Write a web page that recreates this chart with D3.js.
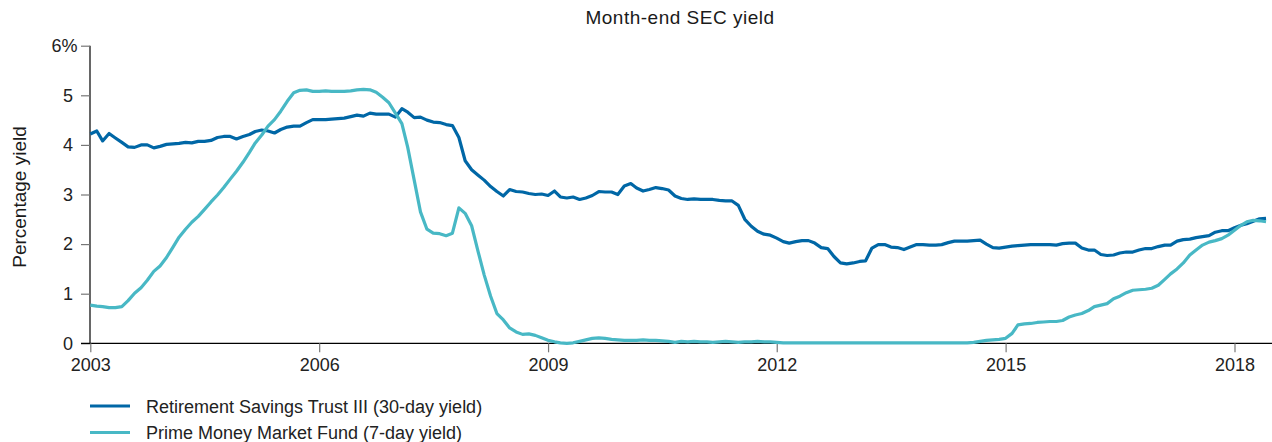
<!DOCTYPE html>
<html>
<head>
<meta charset="utf-8">
<script src="https://cdn.jsdelivr.net/npm/d3@7"></script>
<style>
  body { margin: 0; background: #fff; }
  svg { display: block; font-family: "Liberation Sans", Arial, sans-serif; }
</style>
</head>
<body>
<svg id="chart" width="1272" height="442"></svg>
<script>
// monthly series, first point is Jan 2003
const startYear = 2003;

const trustYield = [
  4.22, 4.28, 4.08, 4.23, 4.14, 4.05, 3.96, 3.95, 4.00, 4.00,
  3.94, 3.97, 4.01, 4.02, 4.03, 4.05, 4.04, 4.07, 4.07, 4.09,
  4.15, 4.17, 4.17, 4.12, 4.17, 4.21, 4.27, 4.30, 4.28, 4.24,
  4.31, 4.36, 4.38, 4.38, 4.45, 4.51, 4.51, 4.51, 4.52, 4.53,
  4.54, 4.57, 4.60, 4.58, 4.64, 4.62, 4.62, 4.62, 4.56, 4.73,
  4.66, 4.55, 4.56, 4.50, 4.46, 4.45, 4.41, 4.39, 4.15, 3.68,
  3.50, 3.39, 3.29, 3.16, 3.06, 2.97, 3.10, 3.06, 3.05, 3.02,
  3.00, 3.01, 2.98, 3.07, 2.95, 2.93, 2.95, 2.90, 2.93, 2.98,
  3.06, 3.05, 3.05, 3.00, 3.17, 3.22, 3.13, 3.07, 3.10, 3.14,
  3.12, 3.09, 2.97, 2.92, 2.90, 2.91, 2.90, 2.90, 2.90, 2.88, 2.87,
  2.87, 2.78, 2.50, 2.36, 2.26, 2.20, 2.18, 2.12, 2.05, 2.02,
  2.05, 2.07, 2.07, 2.02, 1.93, 1.91, 1.75, 1.62, 1.60, 1.62,
  1.65, 1.66, 1.92, 1.99, 1.99, 1.94, 1.93, 1.89, 1.94, 1.99,
  1.99, 1.98, 1.98, 1.99, 2.03, 2.06, 2.06, 2.06, 2.07, 2.08,
  2.00, 1.93, 1.92, 1.94, 1.96, 1.97, 1.98, 1.99, 1.99, 1.99,
  1.99, 1.98, 2.01, 2.02, 2.02, 1.92, 1.88, 1.88, 1.79, 1.77,
  1.78, 1.82, 1.84, 1.84, 1.88, 1.91, 1.91, 1.95, 1.98, 1.98,
  2.06, 2.09, 2.10, 2.13, 2.15, 2.17, 2.24, 2.27, 2.27, 2.33,
  2.38, 2.41, 2.46, 2.51, 2.52
];

const primeYield = [
  0.77, 0.75, 0.74, 0.72, 0.72, 0.74, 0.86, 1.01, 1.12, 1.27,
  1.45, 1.56, 1.73, 1.94, 2.14, 2.30, 2.44, 2.56, 2.70, 2.85,
  2.99, 3.14, 3.31, 3.47, 3.65, 3.85, 4.04, 4.20, 4.38, 4.51,
  4.68, 4.88, 5.05, 5.10, 5.11, 5.08, 5.08, 5.09, 5.08, 5.08,
  5.08, 5.09, 5.11, 5.12, 5.11, 5.06, 4.96, 4.85, 4.64, 4.43,
  3.95, 3.29, 2.65, 2.30, 2.22, 2.21, 2.17, 2.22, 2.73, 2.62,
  2.37, 1.85, 1.38, 0.95, 0.60, 0.47, 0.31, 0.23, 0.18, 0.19,
  0.16, 0.11, 0.06, 0.03, 0.01, 0.00, 0.01, 0.04, 0.07, 0.10,
  0.11, 0.10, 0.08, 0.07, 0.06, 0.06, 0.06, 0.07, 0.06, 0.06,
  0.05, 0.04, 0.02, 0.04, 0.03, 0.04, 0.03, 0.03, 0.02, 0.03, 0.04,
  0.03, 0.02, 0.03, 0.03, 0.04, 0.03, 0.03, 0.02, 0.01, 0.01,
  0.01, 0.01, 0.01, 0.01, 0.01, 0.01, 0.01, 0.01, 0.01, 0.01,
  0.01, 0.01, 0.01, 0.01, 0.01, 0.01, 0.01, 0.01, 0.01, 0.01,
  0.01, 0.01, 0.01, 0.01, 0.01, 0.01, 0.01, 0.01, 0.02, 0.04,
  0.06, 0.07, 0.08, 0.10, 0.20, 0.37, 0.39, 0.40, 0.42, 0.43,
  0.44, 0.44, 0.46, 0.53, 0.57, 0.60, 0.66, 0.74, 0.77, 0.80,
  0.90, 0.95, 1.02, 1.07, 1.08, 1.09, 1.11, 1.17, 1.29, 1.40,
  1.50, 1.62, 1.78, 1.88, 1.98, 2.04, 2.07, 2.11, 2.18, 2.28,
  2.38, 2.45, 2.48, 2.47, 2.45
];

const seriesNames = [
  "Retirement Savings Trust III (30-day yield)",
  "Prime Money Market Fund (7-day yield)"
];
const colors = ["#0067a6", "#48b8c5"];
const yTicks = [0, 1, 2, 3, 4, 5, 6];
const xTickYears = [2003, 2006, 2009, 2012, 2015, 2018];

const svg = d3.select("#chart");
const width = 1272, height = 442;
const tickFont = 18;

const months = trustYield.map((_, i) => new Date(Date.UTC(startYear, i, 1)));

const x = d3.scaleUtc()
  .domain([new Date(Date.UTC(2003, 0, 1)), new Date(Date.UTC(2018, 0, 1))])
  .range([90.3, 1234.5]);

const y = d3.scaleLinear()
  .domain([0, 6])
  .range([343.3, 45.7]);

// title
svg.append("text")
  .attr("x", 680).attr("y", 24)
  .attr("text-anchor", "middle")
  .attr("font-size", 19)
  .attr("fill", "#1a1a1a")
  .attr("letter-spacing", "0.5px")
  .text("Month-end SEC yield");

// y axis label
svg.append("text")
  .attr("transform", "translate(26,197) rotate(-90)")
  .attr("text-anchor", "middle")
  .attr("font-size", 19)
  .attr("fill", "#1a1a1a")
  .text("Percentage yield");

// y axis
const yAxis = svg.append("g")
  .attr("transform", "translate(90,0)")
  .call(d3.axisLeft(y).tickValues(yTicks).tickSize(9).tickPadding(8)
    .tickFormat(d => d === 6 ? "6%" : d));
yAxis.attr("font-size", tickFont).attr("font-family", "Liberation Sans, Arial, sans-serif");
yAxis.select(".domain").attr("stroke", "#000").attr("stroke-width", 1.2)
  .attr("d", `M0,${y(6)}V${y(0)}`);
yAxis.selectAll(".tick line").attr("stroke", "#777").attr("stroke-width", 1.2);
yAxis.selectAll(".tick text").attr("fill", "#222");
yAxis.selectAll(".tick text").filter(d => d === 6).attr("dx", "0.25em");

// x axis
const xAxis = svg.append("g")
  .attr("transform", `translate(0,${y(0)})`)
  .call(d3.axisBottom(x)
    .tickValues(xTickYears.map(yr => new Date(Date.UTC(yr, 0, 1))))
    .tickSize(9).tickPadding(6)
    .tickFormat(d3.utcFormat("%Y")));
xAxis.attr("font-size", tickFont).attr("font-family", "Liberation Sans, Arial, sans-serif");
xAxis.select(".domain").attr("stroke", "#000").attr("stroke-width", 1.2)
  .attr("d", `M81,0H${width}`);
xAxis.selectAll(".tick line").attr("stroke", "#777").attr("stroke-width", 1.2);
xAxis.selectAll(".tick text").attr("fill", "#222");

// lines
const line = d3.line()
  .x((d, i) => x(months[i]))
  .y(d => y(d));

[trustYield, primeYield].forEach((vals, k) => {
  svg.append("path")
    .datum(vals)
    .attr("fill", "none")
    .attr("stroke", colors[k])
    .attr("stroke-width", 3.2)
    .attr("stroke-linejoin", "round")
    .attr("d", line);
});

// legend
const legend = svg.append("g");
seriesNames.forEach((name, k) => {
  const ly = 406 + k * 26.5;
  legend.append("line")
    .attr("x1", 90).attr("x2", 130)
    .attr("y1", ly).attr("y2", ly)
    .attr("stroke", colors[k]).attr("stroke-width", 3.2);
  legend.append("text")
    .attr("x", 146).attr("y", ly + 6.5)
    .attr("font-size", 18)
    .attr("fill", "#222")
    .text(name);
});
</script>
</body>
</html>
